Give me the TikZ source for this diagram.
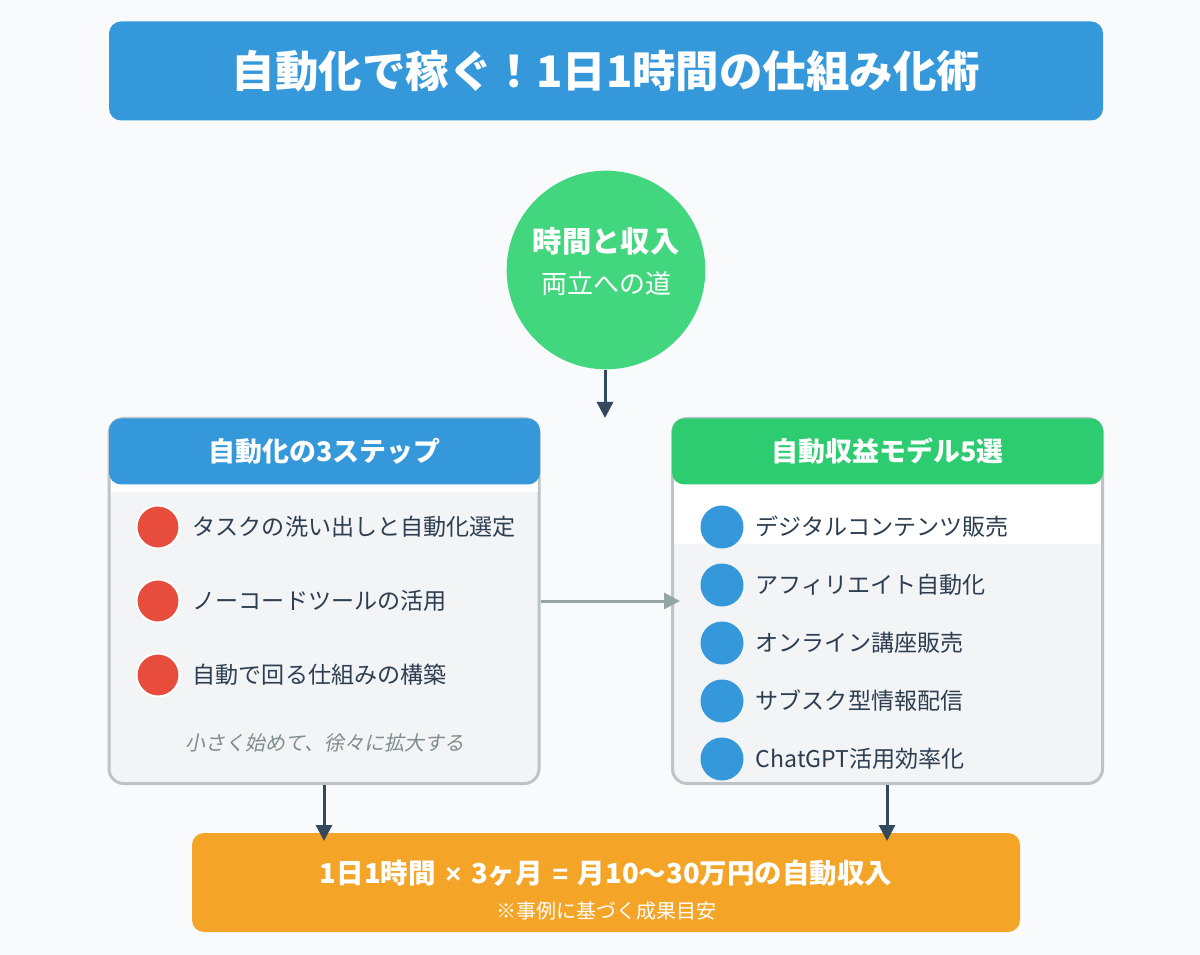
\documentclass[tikz,border=0pt]{standalone}
\usepackage{fontspec}
\setmainfont{Noto Sans CJK JP}
\newfontfamily\slantfont[FakeSlant=0.2]{Noto Sans CJK JP}
\newfontfamily\latinfont{Liberation Sans}
\usetikzlibrary{arrows.meta}
\definecolor{pagegray}{HTML}{F8FAFC}
\definecolor{bodygray}{HTML}{F3F4F6}
\definecolor{edgegray}{HTML}{BDC3C7}
\definecolor{titleblue}{HTML}{3498DB}
\definecolor{headgreen}{HTML}{2ECC71}
\definecolor{hubgreen}{HTML}{42D67E}
\definecolor{dotred}{HTML}{E74C3C}
\definecolor{resultorange}{HTML}{F4A528}
\definecolor{inkdark}{HTML}{2C3E50}
\definecolor{arrowdark}{HTML}{34495E}
\definecolor{notegray}{HTML}{7F8C8D}
\definecolor{crossgray}{HTML}{95A5A6}
\newcommand{\fpt}[1]{\fontsize{#1}{#1}\selectfont}
\begin{document}
\begin{tikzpicture}
[x=0.75pt,y=-0.75pt,
  boxdecorate/.style={shape=rectangle,inner sep=0pt,text=white,align=center},%
  dotdecorate/.style={shape=circle,inner sep=0pt,minimum size=32.25pt},%
  itemdecorate/.style={anchor=west,inner sep=0pt,text=inkdark,text height=17pt,text depth=3pt,font=\fpt{17.3pt}},%
  linedecorate/.style={line width=2.25pt,arrowdark,-{Triangle[length=12pt,width=12pt]}},%
  crossdecorate/.style={line width=2.25pt,crossgray,-{Triangle[length=12pt,width=12pt]}}]
\useasboundingbox (0,0) rectangle (1200,955);
\fill[pagegray] (0,0) rectangle (1200,955);
%% outer boxes
\node (stepsbox) at (324,601) [boxdecorate,draw=edgegray,line width=2.25pt,fill=bodygray,
  rounded corners=11pt,minimum width=322.5pt,minimum height=273.75pt] {};
\node (modelsbox) at (887.5,601) [boxdecorate,draw=edgegray,line width=2.25pt,fill=bodygray,
  rounded corners=11pt,minimum width=322.5pt,minimum height=273.75pt] {};
%% white strips under the headers
\fill[white] (110.5,470) rectangle (537.5,492);
\fill[white] (674,470) rectangle (1101,544);
%% headers, title, hub and result
\foreach \nodename/\x/\y/\w/\h/\shade/\size/\txt in {
  titlebar/606/71/994/99/titleblue/32.6pt/自動化で稼ぐ！1日1時間の仕組み化術,
  stepshead/324.5/451.5/431/66/titleblue/20.2pt/自動化の3ステップ,
  modelshead/887.5/451.5/431/66/headgreen/20.2pt/自動収益モデル5選}
{
  \node (\nodename) at (\x,\y) [boxdecorate,fill=\shade,rounded corners=9pt,font=\fpt{\size}\bfseries,
    minimum width=\w*0.75pt,minimum height=\h*0.75pt] {\txt};
}
\node (hub) at (606,270) [shape=circle,fill=hubgreen,inner sep=0pt,minimum size=149pt,text=white,align=center]
  {{\fpt{22pt}\bfseries 時間と収入}\\[10.75pt]{\fpt{19.5pt}両立への道}\\[2.5pt]};
\node (result) at (606,882.5) [boxdecorate,fill=resultorange,rounded corners=9pt,
  minimum width=621pt,minimum height=74.25pt] {};
\node (resulttext) at (606,890) [boxdecorate]
  {{\fpt{20.6pt}\bfseries 1日1時間\hspace{2.5pt} {\latinfont ×} \hspace{2.5pt}3ヶ月\hspace{2.5pt} {\latinfont =} \hspace{2.5pt}月10〜30万円の自動収入}\\[10.3pt]{\fpt{15pt}※事例に基づく成果目安}};
%% list items
\foreach \nodename/\y/\txt in {1/527/タスクの洗い出しと自動化選定, 2/601/ノーコードツールの活用, 3/675/自動で回る仕組みの構築}
{
  \node (stepdot\nodename) at (158,\y) [dotdecorate,fill=dotred,draw=white,line width=1.5pt] {};
  \node (steptext\nodename) at (192.5,\y-0.7) [itemdecorate] {\txt};
}
\foreach \nodename/\y/\txt in {1/527/デジタルコンテンツ販売, 2/585/アフィリエイト自動化, 3/643/オンライン講座販売,
  4/701/サブスク型情報配信, 5/759/ChatGPT活用効率化}
{
  \node (modeldot\nodename) at (722,\y) [dotdecorate,fill=titleblue] {};
  \node (modeltext\nodename) at (755.5,\y-0.7) [itemdecorate] {\txt};
}
\node (stepsnote) at (325,743) [inner sep=0pt,text=notegray,font=\slantfont\fpt{15pt}] {小さく始めて、徐々に拡大する};
%% arrows
\coordinate (hubdrop) at (605,418);
\coordinate (crossend) at (680,601);
\coordinate (stepsdrop) at (324,841);
\coordinate (modelsdrop) at (887,841);
\draw[linedecorate] (hubdrop |- hub.south) -- (hubdrop);
\draw[crossdecorate] (crossend -| stepsbox.east) -- (crossend);
\draw[linedecorate] (stepsdrop |- stepsbox.south) -- (stepsdrop);
\draw[linedecorate] (modelsdrop |- modelsbox.south) -- (modelsdrop);
\end{tikzpicture}
\end{document}
